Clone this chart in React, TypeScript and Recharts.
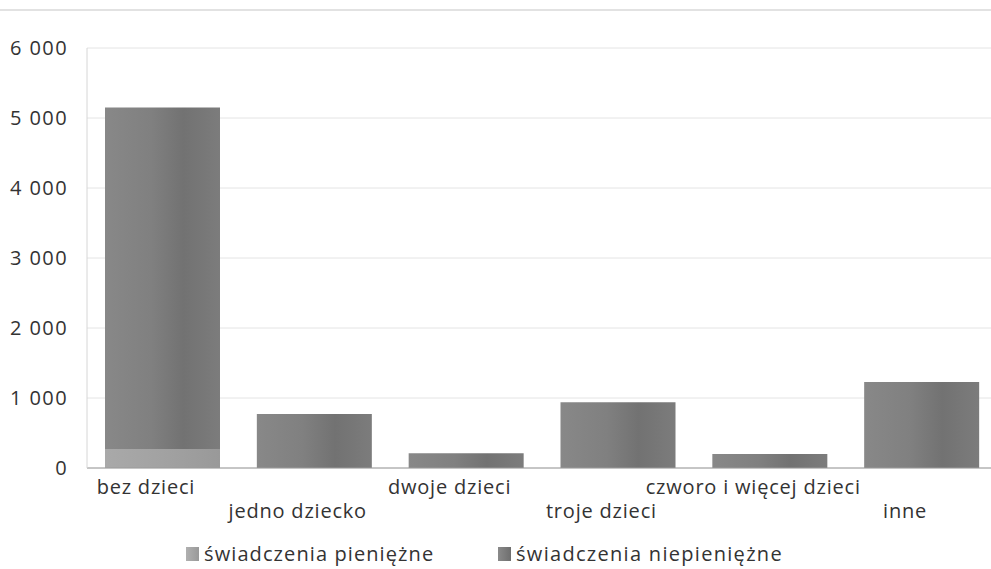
import React from 'react';
import { BarChart, Bar, XAxis, YAxis, CartesianGrid } from 'recharts';

const categories = ['bez dzieci', 'jedno dziecko', 'dwoje dzieci', 'troje dzieci', 'czworo i więcej dzieci', 'inne'];
const pieniezne = [270, 0, 0, 0, 0, 0];
const niepieniezne = [4880, 770, 210, 940, 200, 1230];
const seriesNames = ['świadczenia pieniężne', 'świadczenia niepieniężne'];
const yTicks = [0, 1000, 2000, 3000, 4000, 5000, 6000];

const data = categories.map((c, i) => ({ name: c, p: pieniezne[i], n: niepieniezne[i] }));

const FONT = '"Open Sans", sans-serif';
const fmt = (v: number) => String(v).replace(/\B(?=(\d{3})+(?!\d))/g, ' ');

const XTick = (props: any) => {
  const { x, y, payload, index } = props;
  const row = index % 2 === 1 ? 50 : 26;
  return (
    <text x={x - 17} y={y + row} textAnchor="middle" fill="#333" fontSize={20} fontFamily={FONT} letterSpacing={0.8}>
      {payload.value}
    </text>
  );
};

const YTick = (props: any) => {
  const { x, y, payload } = props;
  return (
    <text x={x} y={y + 7} textAnchor="end" fill="#333" fontSize={20} fontFamily={FONT} letterSpacing={1.4}>
      {fmt(payload.value)}
    </text>
  );
};

export default function App() {
  return (
    <div style={{ position: 'absolute', left: 0, top: 0, width: 991, height: 569, overflow: 'hidden', background: '#fff' }}>
      <div style={{ position: 'absolute', left: 0, top: 9, width: 991, height: 2, background: '#e2e2e2' }} />
      <BarChart width={1000} height={569} data={data} margin={{ top: 48, right: 2, left: 0, bottom: 0 }} barSize={115}>
        <defs>
          <linearGradient id="gN" x1="0" y1="0" x2="1" y2="0">
            <stop offset="0" stopColor="#888888" />
            <stop offset="0.4" stopColor="#808080" />
            <stop offset="0.68" stopColor="#727272" />
            <stop offset="1" stopColor="#7c7c7c" />
          </linearGradient>
          <linearGradient id="gP" x1="0" y1="0" x2="1" y2="0">
            <stop offset="0" stopColor="#a9a9a9" />
            <stop offset="0.5" stopColor="#a2a2a2" />
            <stop offset="1" stopColor="#999999" />
          </linearGradient>
        </defs>
        <CartesianGrid vertical={false} stroke="#e4e4e4" />
        <XAxis dataKey="name" height={101} tickSize={0} tickMargin={0} tick={<XTick />} interval={0} axisLine={{ stroke: '#9a9a9a' }} tickLine={false} />
        <YAxis width={87} domain={[0, 6000]} ticks={yTicks} tickSize={0} tickMargin={19} tick={<YTick />} axisLine={{ stroke: '#d6d6d6' }} tickLine={false} />
        <Bar dataKey="p" name={seriesNames[0]} stackId="a" fill="url(#gP)" isAnimationActive={false} />
        <Bar dataKey="n" name={seriesNames[1]} stackId="a" fill="url(#gN)" isAnimationActive={false} />
      </BarChart>
      <div style={{ position: 'absolute', left: 186, top: 540, display: 'flex', alignItems: 'center', fontFamily: FONT, fontSize: 20, color: '#333', letterSpacing: 1.1 }}>
        <span style={{ width: 13, height: 14, background: 'linear-gradient(90deg,#b0b0b0,#999)', display: 'inline-block', marginRight: 5 }} />
        <span>{seriesNames[0]}</span>
      </div>
      <div style={{ position: 'absolute', left: 498, top: 540, display: 'flex', alignItems: 'center', fontFamily: FONT, fontSize: 20, color: '#333', letterSpacing: 1.3 }}>
        <span style={{ width: 13, height: 14, background: 'linear-gradient(90deg,#8a8a8a,#6e6e6e)', display: 'inline-block', marginRight: 5 }} />
        <span>{seriesNames[1]}</span>
      </div>
    </div>
  );
}
